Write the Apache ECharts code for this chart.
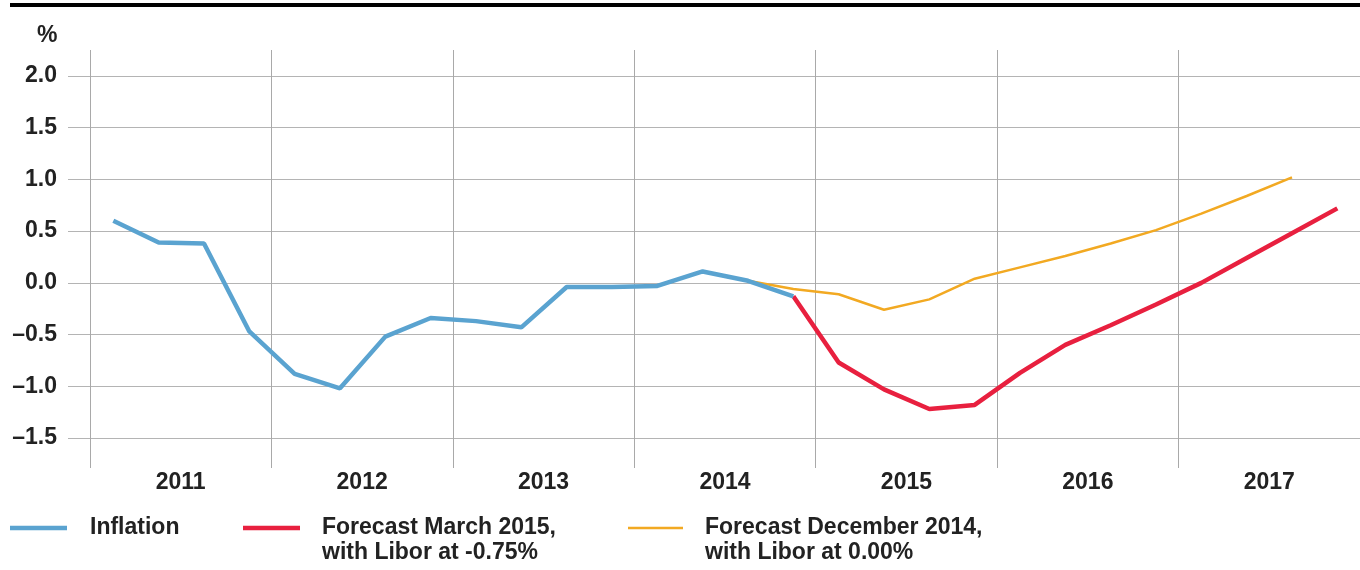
<!DOCTYPE html>
<html>
<head>
<meta charset="utf-8">
<script src="https://cdn.jsdelivr.net/npm/echarts@6/dist/echarts.min.js"></script>
<style>html,body{margin:0;padding:0;background:#fff}#c{width:1360px;height:570px}</style>
</head>
<body>
<div id="c"></div>
<script>
// Years (x-axis labels), quarterly data starting 2011 Q1
const years = ['2011', '2012', '2013', '2014', '2015', '2016', '2017'];
const yTicks = [-1.5, -1.0, -0.5, 0.0, 0.5, 1.0, 1.5, 2.0];
// Inflation, 2011Q1 .. 2014Q4 (quarter index 0..15)
const inflation = [0.60, 0.39, 0.38, -0.47, -0.88, -1.02, -0.52, -0.34, -0.37, -0.43, -0.04, -0.04, -0.03, 0.11, 0.02, -0.13];
// Forecast March 2015 (Libor -0.75%), starting quarter index 15
const forecastMarStart = 15;
const forecastMar = [-0.13, -0.77, -1.03, -1.22, -1.18, -0.87, -0.60, -0.41, -0.21, 0.00, 0.24, 0.48, 0.72];
// Forecast December 2014 (Libor 0.00%), starting quarter index 14
const forecastDecStart = 14;
const forecastDec = [0.02, -0.06, -0.11, -0.26, -0.16, 0.04, 0.15, 0.26, 0.38, 0.51, 0.67, 0.84, 1.02];
const legendNames = ['Inflation', 'Forecast March 2015,\nwith Libor at -0.75%', 'Forecast December 2014,\nwith Libor at 0.00%'];
const colors = ['#5aa3d0', '#e8203f', '#f2a922'];

const toPts = (arr, start) => arr.map((v, i) => [start + i + 0.5, v]);
const FONT = '"Liberation Sans", Arial, sans-serif';
const TXT = '#222';
const FS = 23;
const FW = 'bold';
const chart = echarts.init(document.getElementById('c'), null, {renderer: 'canvas'});
chart.setOption({
  animation: false,
  backgroundColor: '#fff',
  grid: [
    {left: 68, right: -5, top: 76, bottom: 132},
    {left: 90, right: -4, top: 50, bottom: 102}
  ],
  xAxis: [
    {gridIndex: 0, type: 'value', min: -0.5, max: 28, show: false},
    {gridIndex: 1, type: 'category', data: years, boundaryGap: true,
     axisLine: {show: false}, axisTick: {show: false},
     splitLine: {show: true, lineStyle: {color: '#a9a9a9', width: 1}},
     axisLabel: {color: TXT, fontFamily: FONT, fontWeight: FW, fontSize: FS, margin: 3}}
  ],
  yAxis: [
    {gridIndex: 0, type: 'value', min: -1.5, max: 2.0, interval: 0.5,
     axisLine: {show: false}, axisTick: {show: false},
     splitLine: {show: true, lineStyle: {color: '#b4b4b4', width: 1}},
     axisLabel: {color: TXT, fontFamily: FONT, fontWeight: FW, fontSize: FS, margin: 11,
       formatter: v => (v < 0 ? '\u2013' : '') + Math.abs(v).toFixed(1)}},
    {gridIndex: 1, type: 'value', min: 0, max: 1, show: false}
  ],
  series: [
    {name: legendNames[2], type: 'line', xAxisIndex: 0, yAxisIndex: 0, data: toPts(forecastDec, forecastDecStart),
     symbol: 'none', lineStyle: {color: colors[2], width: 2.5}, z: 2},
    {name: legendNames[1], type: 'line', xAxisIndex: 0, yAxisIndex: 0, data: toPts(forecastMar, forecastMarStart),
     symbol: 'none', lineStyle: {color: colors[1], width: 4.5}, z: 3},
    {name: legendNames[0], type: 'line', xAxisIndex: 0, yAxisIndex: 0, data: toPts(inflation, 0),
     symbol: 'none', lineStyle: {color: colors[0], width: 4.5}, z: 4}
  ],
  graphic: [
    {type: 'line', shape: {x1: 10, y1: 5, x2: 1360, y2: 5}, style: {stroke: '#000', lineWidth: 4}},
    {type: 'text', left: 37, top: 24, style: {text: '%', fontFamily: FONT, fontWeight: FW, fontSize: FS, fill: TXT}},
    {type: 'line', shape: {x1: 10, y1: 528, x2: 67, y2: 528}, style: {stroke: colors[0], lineWidth: 4.5}},
    {type: 'text', left: 90, top: 515, style: {text: legendNames[0], fontFamily: FONT, fontWeight: FW, fontSize: FS, fill: TXT, lineHeight: 25}},
    {type: 'line', shape: {x1: 243, y1: 528, x2: 300, y2: 528}, style: {stroke: colors[1], lineWidth: 4.5}},
    {type: 'text', left: 322, top: 515, style: {text: legendNames[1], fontFamily: FONT, fontWeight: FW, fontSize: FS, fill: TXT, lineHeight: 25}},
    {type: 'line', shape: {x1: 628, y1: 528, x2: 683, y2: 528}, style: {stroke: colors[2], lineWidth: 2.5}},
    {type: 'text', left: 705, top: 515, style: {text: legendNames[2], fontFamily: FONT, fontWeight: FW, fontSize: FS, fill: TXT, lineHeight: 25}}
  ]
});
</script>
</body>
</html>
